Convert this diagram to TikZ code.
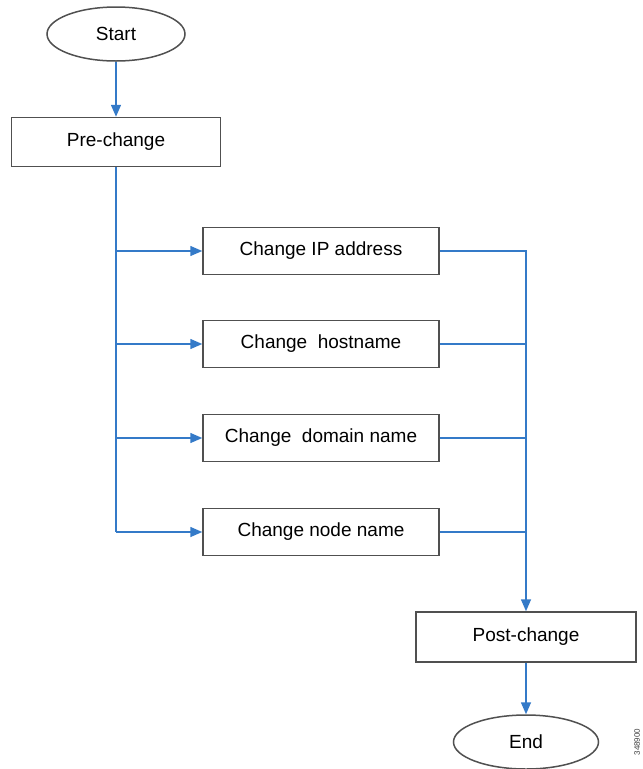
\documentclass[tikz,border=0pt]{standalone}
\usepackage{fontspec}
\setmainfont{Liberation Sans}
\usetikzlibrary{shapes.geometric,arrows.meta}
\definecolor{flowblue}{RGB}{52,122,200}
\definecolor{boxgray}{RGB}{80,80,80}
\tikzset{
  stepbox/.style={draw=boxgray,line width=1.5pt,rectangle,minimum width=236pt,minimum height=47pt,inner sep=0pt,font=\fontsize{19}{23}\selectfont},
  termin/.style={draw=boxgray,line width=1.5pt,ellipse,inner sep=0pt,font=\fontsize{19}{23}\selectfont},
  flow/.style={draw=flowblue,line width=1.5pt},
  arr/.style={flow,-{Triangle[length=12pt,width=10pt]}}
}
\begin{document}
\begin{tikzpicture}[x=1pt,y=-1pt]
\useasboundingbox (0,0) rectangle (643,769);
\node[termin,minimum width=138pt,minimum height=54pt] (start) at (116,34) {Start};
\node[stepbox,minimum width=209pt,minimum height=49pt] (pre) at (116,142) {Pre-change};
\node[stepbox] (ip) at (321,251) {Change IP address};
\node[stepbox] (hn) at (321,344) {Change\ \ hostname};
\node[stepbox] (dn) at (321,438) {Change\ \ domain name};
\node[stepbox] (nn) at (321,532) {Change node name};
\node[stepbox,minimum width=220pt,minimum height=50pt] (post) at (526,637) {Post-change};
\node[termin,minimum width=145pt,minimum height=54pt] (end) at (526,742) {End};
\node[rotate=90,font=\fontsize{8}{9}\selectfont,text=darkgray] (fig) at (637,742) {348900};
\draw[arr] (start.south) -- (pre.north);
\draw[flow] (pre.south) -- (pre.south |- nn.west);
\foreach \b in {ip,hn,dn,nn}{
  \draw[arr] (pre.south |- \b.west) -- (\b.west);
}
\draw[arr] (ip.east) -| (post.north);
\foreach \b in {hn,dn,nn}{
  \draw[flow] (\b.east) -- (post.north |- \b.east);
}
\draw[arr] (post.south) -- (end.north);
\end{tikzpicture}
\end{document}
